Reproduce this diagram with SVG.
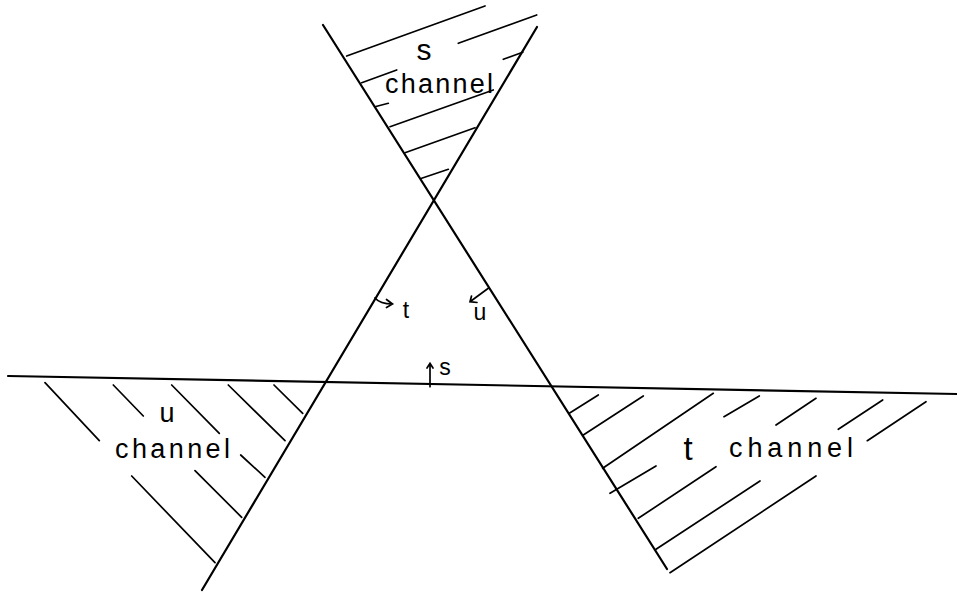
<svg xmlns="http://www.w3.org/2000/svg" width="957" height="593" viewBox="0 0 957 593">
<style>
.main{stroke:#000;stroke-width:2.2;fill:none;stroke-linecap:round}
.h{stroke:#000;stroke-width:1.7;fill:none;stroke-linecap:round}
.lbl{font-family:"Liberation Sans","DejaVu Sans",sans-serif;fill:#000}
.big{font-size:27px}
.sm{font-size:23px}
</style>
<rect width="957" height="593" fill="#fff"/>
<g id="axes">
<path class="main" d="M8,376 L957,394"/>
<path class="main" d="M323,25 L667,569"/>
<path class="main" d="M537,27 L202,590"/>
</g>
<g id="s-channel">
<path class="h" d="M346.7,56 L485,6 M361.7,82.7 L396.7,70 M458.3,43.3 L536.7,15 M375,106.7 L388.3,103.3 M503.3,59.3 L522.7,52.3 M390,126.7 L493.3,90 M405,152.7 L475,127.7 M421.7,178.3 L448.3,169.3"/>
<text class="lbl" x="424" y="60" font-size="30" text-anchor="middle">s</text>
<text class="lbl big" x="385" y="93" textLength="108" lengthAdjust="spacing">channel</text>
</g>
<g id="u-channel">
<path class="h" d="M45,382.7 L99.3,440.7 M113.3,385 L143.3,416 M171.7,385 L219.3,433.3 M228.3,385 L285,440.7 M274,385 L302.7,413.3 M240.7,455 L265,477.3 M195,470.7 L241.7,517.3 M131.7,476 L215,562.7"/>
<text class="lbl big" x="167" y="422" text-anchor="middle">u</text>
<text class="lbl big" x="115" y="458" textLength="115" lengthAdjust="spacing">channel</text>
</g>
<g id="t-channel">
<path class="h" d="M569.3,413.3 L598.3,395 M583.3,435 L643.3,396 M602.7,468.3 L713.3,393.3 M610,493.3 L656,466 M638.3,518.3 L716,466.7 M656,549.3 L760,481 M670,572.7 L816,476 M724,416.7 L759.3,396 M776,425 L816,398.3 M838.3,429.3 L882.7,400 M867.3,440.7 L926,401.7"/>
<text class="lbl" x="688" y="460" font-size="33" text-anchor="middle">t</text>
<text class="lbl big" x="729" y="457" textLength="124" lengthAdjust="spacing">channel</text>
</g>
<g id="connectors">
<path class="h" d="M375,298 Q380,304 392.5,304 M386.5,299.5 L392.5,304 L386.5,307.5"/>
<path class="h" d="M488.3,288.3 L470,301.7 M471.5,296 L470,301.7 L477,302.5"/>
<path class="h" d="M430,386.7 L430,363.3 M427,368 L430,363.3 L433,368"/>
</g>
<g id="labels">
<text class="lbl sm" x="406" y="318" text-anchor="middle">t</text>
<text class="lbl sm" x="480" y="320" text-anchor="middle">u</text>
<text class="lbl sm" x="445" y="375" text-anchor="middle">s</text>
</g>
</svg>
